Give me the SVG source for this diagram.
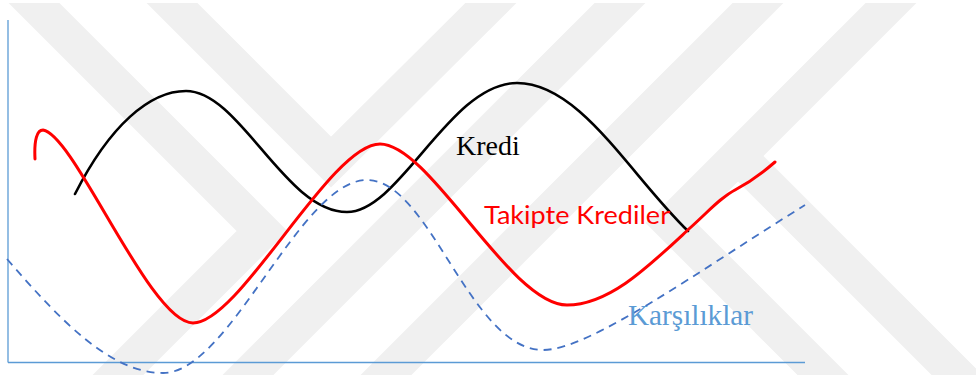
<svg xmlns="http://www.w3.org/2000/svg" width="976" height="378" viewBox="0 0 976 378">
<style>
.wm{fill:none;stroke:#f0f0f0;stroke-width:36;stroke-linejoin:miter;stroke-miterlimit:10}
.axis{fill:none;stroke:#5b9bd5;stroke-width:1.3}
.kredi{fill:none;stroke:#000000;stroke-width:2.6;stroke-linecap:round}
.takip{fill:none;stroke:#ff0000;stroke-width:3;stroke-linecap:round}
.kars{fill:none;stroke:#4472c4;stroke-width:1.8;stroke-dasharray:8 6}
</style>
<defs>
<clipPath id="wmclip"><rect x="0" y="3" width="976" height="372"/></clipPath>
</defs>
<rect width="976" height="378" fill="#ffffff"/>
<g id="watermark" clip-path="url(#wmclip)">
<polyline class="wm" points="16,-15 262,231 100,393"/>
<polyline class="wm" points="154,-15 331,162 509,-15"/>
<line class="wm" x1="638" y1="-15" x2="230" y2="393"/>
<line class="wm" x1="776" y1="-15" x2="368" y2="393"/>
<polyline class="wm" points="909,-15 671,223 841,393"/>
<line class="wm" x1="738" y1="156" x2="975" y2="393"/>
</g>
<g id="axes">
<line class="axis" x1="8" y1="20" x2="8" y2="362.5"/>
<line class="axis" x1="8" y1="362.5" x2="805" y2="362.5"/>
</g>
<g id="connectors">
<path id="kredi-curve" class="kredi" d="M75,194 C110,125 150,91 186,91 C240,91 285,212 347,212 C400,212 450,83 517,83 C580,83 630,175 688,231"/>
<path id="takip-curve" class="takip" d="M35,159 C34,140 37,130 43,130 C75,135 150,323 193,323 C240,323 330,144 380,144 C430,144 510,305 567,305 C610,305 650,265 690,228 C710,210 720,198 735,190 C750,182 760,175 775,162"/>
<path id="kars-curve" class="kars" d="M7,259 C60,320 110,373 163,373 C230,373 300,180 367,180 C430,180 470,350 543,350 C590,350 700,270 805,205"/>
</g>
<g id="label-kredi">
<text x="456" y="154.5" font-family="Liberation Serif, serif" font-size="28" fill="#000000">Kredi</text>
</g>
<g id="label-takip">
<text x="484" y="224" font-family="Lato, sans-serif" font-size="25" fill="#ff0000" textLength="186" lengthAdjust="spacingAndGlyphs">Takipte Krediler</text>
</g>
<g id="label-kars">
<text x="628" y="325" font-family="Liberation Serif, serif" font-size="29" fill="#5b9bd5" textLength="125" lengthAdjust="spacingAndGlyphs">Karşılıklar</text>
</g>
</svg>
